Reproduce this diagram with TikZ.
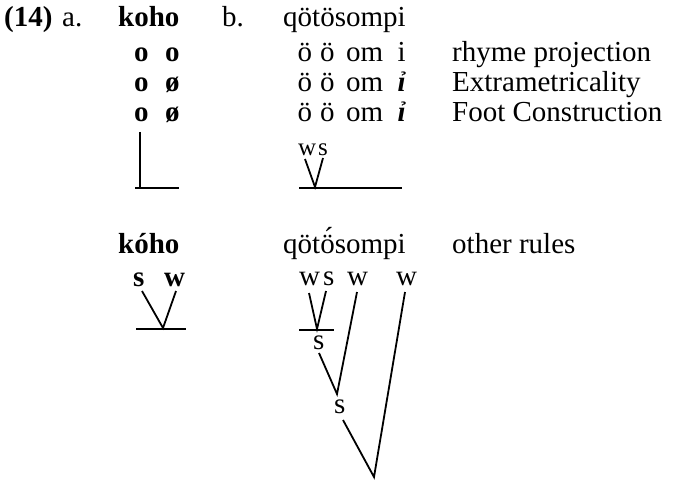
\documentclass[tikz,border=0pt]{standalone}
\usepackage{fontspec}
\setmainfont{Liberation Serif}
\newcommand\oumlacute{\ooalign{ö\cr\hidewidth\raisebox{0.2em}{\kern0.08em ´}\hidewidth\cr}}
\begin{document}
\begin{tikzpicture}[x=1pt,y=-1pt,
  txt/.style={anchor=base west, inner sep=0pt, font=\fontsize{29}{30}\selectfont},
  btxt/.style={anchor=base west, inner sep=0pt, font=\fontsize{29}{30}\selectfont\bfseries},
  smtxt/.style={anchor=base west, inner sep=0pt, font=\fontsize{25}{26}\selectfont},
  branch/.style={line width=1.8pt}]
\useasboundingbox (0,0) rectangle (676,481);
% header
\node[btxt] (num) at (4,27) {(14)};
\node[txt] (la) at (62,27) {a.};
\node[btxt] (koho) at (118,27) {koho};
\node[txt] (lb) at (222,27) {b.};
\node[txt] (qa) at (283,27) {qötösompi};
% column a rows
\node[btxt] (ra1) at (134,62) {o};
\node[btxt] (ra2) at (165,62) {o};
\node[btxt] (rb1) at (134,92) {o};
\node[btxt] (rb2) at (165,92) {ø};
\node[btxt] (rc1) at (134,122) {o};
\node[btxt] (rc2) at (165,122) {ø};
% column b rows
\node[txt] (sa1) at (297.5,62) {ö};
\node[txt] (sa2) at (320,62) {ö};
\node[txt] (sa3) at (346,62) {om};
\node[txt] (sa4) at (397.5,62) {i};
\node[txt] (sb1) at (297.5,92) {ö};
\node[txt] (sb2) at (320,92) {ö};
\node[txt] (sb3) at (346,92) {om};
\node[txt] (sb4) at (397.5,92) {\textbf{\textit{ỉ}}};
\node[txt] (sc1) at (297.5,122) {ö};
\node[txt] (sc2) at (320,122) {ö};
\node[txt] (sc3) at (346,122) {om};
\node[txt] (sc4) at (397.5,122) {\textbf{\textit{ỉ}}};
% labels
\node[txt] (l1) at (452,62) {rhyme projection};
\node[txt] (l2) at (452,92) {Extrametricality};
\node[txt] (l3) at (452,122) {Foot Construction};
\node[txt] (l4) at (452,253) {other rules};
% top trees
\coordinate (av1) at (140,132);
\coordinate (av2) at (140,188);
\coordinate (ah1) at (135,188);
\coordinate (ah2) at (179,188);
\draw[branch] (av1) -- (av2);
\draw[branch] (ah1) -- (ah2);
\node[smtxt] (tw) at (298,155) {w};
\node[smtxt] (ts) at (318,155) {s};
\coordinate (tw0) at (305,159);
\coordinate (ts0) at (323,158);
\coordinate (tap) at (315,187);
\coordinate (th1) at (299,188);
\coordinate (th2) at (402,188);
\draw[branch] (tw0) -- (tap) -- (ts0);
\draw[branch] (th1) -- (th2);
% bottom words
\node[btxt] (koho2) at (118,253) {kóho};
\node[txt] (qb) at (283,253) {qöt\oumlacute sompi};
% bottom tree a
\node[btxt] (bs) at (133,286) {s};
\node[btxt] (bw) at (164,286) {w};
\coordinate (bs0) at (142,291);
\coordinate (bw0) at (176,291);
\coordinate (bap) at (163,328);
\coordinate (bh1) at (136,329);
\coordinate (bh2) at (186,329);
\draw[branch] (bs0) -- (bap) -- (bw0);
\draw[branch] (bh1) -- (bh2);
% bottom tree b
\node[txt] (cw1) at (299,285) {w};
\node[txt] (cs1) at (323,285) {s};
\node[txt] (cw2) at (347,285) {w};
\node[txt] (cw3) at (396,285) {w};
\coordinate (cw10) at (309,293);
\coordinate (cs10) at (326,291);
\coordinate (cap1) at (317,329);
\coordinate (ch1) at (299,330);
\coordinate (ch2) at (334,330);
\draw[branch] (cw10) -- (cap1) -- (cs10);
\draw[branch] (ch1) -- (ch2);
\node[txt] (s1) at (313,349) {s};
\coordinate (s10) at (319,353);
\coordinate (cw20) at (357,292);
\coordinate (cap2) at (337,394);
\draw[branch] (s10) -- (cap2) -- (cw20);
\node[txt] (s2) at (334,413) {s};
\coordinate (s20) at (343,420);
\coordinate (cw30) at (405,292);
\coordinate (cap3) at (374,477);
\draw[branch] (s20) -- (cap3) -- (cw30);
\end{tikzpicture}
\end{document}
